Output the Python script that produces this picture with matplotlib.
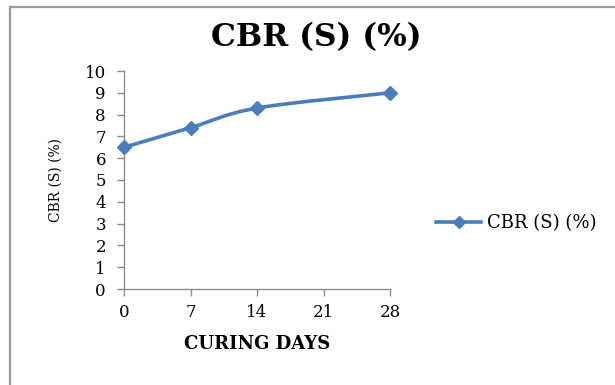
import numpy as np
import matplotlib
matplotlib.use("Agg")
import matplotlib.pyplot as plt
from matplotlib.path import Path
from matplotlib.patches import PathPatch, Rectangle
from matplotlib.lines import Line2D

# ── Data ─────────────────────────────────────────────────────────────────────
curing_days = [0, 7, 14, 28]
cbr_values = [6.5, 7.4, 8.3, 9.0]
x_ticks = [0, 7, 14, 21, 28]
y_ticks = list(range(0, 11))
title = "CBR (S) (%)"
series_name = "CBR (S) (%)"

BLUE = "#4a7ebb"
AXC = "#8c8c8c"
# the reference glyphs are wide serif letters -> DejaVu Serif
plt.rcParams["font.family"] = ["DejaVu Serif"]

fig = plt.figure(figsize=(6.15, 3.85), dpi=100)
fig.patch.set_facecolor("white")

# outer chart frame (only top & left visible in the crop)
fig.patches.append(Rectangle((10 / 615, -0.2), 1.2, 0.2 + 378 / 385,
                             transform=fig.transFigure, facecolor="none",
                             edgecolor="#9a9a9a", linewidth=1.6))

ax = fig.add_axes([124 / 615, 96 / 385, 266 / 615, 218 / 385])

# Excel-style smoothed line, built as bezier segments between the points
xs = np.array(curing_days, float)
ys = np.array(cbr_values, float)
n = len(xs)
verts = [(xs[0], ys[0])]
codes = [Path.MOVETO]
for i in range(n - 1):
    p0 = np.array([xs[max(i - 1, 0)], ys[max(i - 1, 0)]])
    p1 = np.array([xs[i], ys[i]])
    p2 = np.array([xs[i + 1], ys[i + 1]])
    p3 = np.array([xs[min(i + 2, n - 1)], ys[min(i + 2, n - 1)]])
    c1 = p1 + (p2 - p0) / 6
    c2 = p2 - (p3 - p1) / 6
    verts += [tuple(c1), tuple(c2), tuple(p2)]
    codes += [Path.CURVE4] * 3
ax.add_patch(PathPatch(Path(verts, codes), facecolor="none", edgecolor=BLUE,
                       linewidth=2.6, capstyle="round", zorder=3))
ax.plot(curing_days, cbr_values, linestyle="none", marker="D", markersize=7.5,
        color=BLUE, zorder=4, clip_on=False)

ax.set_xlim(0, 28)
ax.set_ylim(0, 10)
ax.set_xticks(x_ticks)
ax.set_yticks(y_ticks)
ax.tick_params(axis="both", direction="out", length=5, width=1, color=AXC,
               labelsize=12)
ax.tick_params(axis="y", pad=8)
ax.tick_params(axis="x", pad=6)
for s in ["top", "right"]:
    ax.spines[s].set_visible(False)
for s in ["left", "bottom"]:
    ax.spines[s].set_color(AXC)
    ax.spines[s].set_linewidth(1)

ax.set_xlabel("CURING DAYS", fontsize=13, fontweight="bold", labelpad=10)
ax.set_ylabel("CBR (S) (%)", fontsize=10, labelpad=16)

fig.text(316 / 615, 1 - 38 / 385, title, fontsize=22.5, fontweight="bold",
         ha="center", va="center")

handle = Line2D([], [], color=BLUE, linewidth=2.6, marker="D", markersize=6.5)
fig.legend([handle], [series_name], loc="center left",
           bbox_to_anchor=(420 / 615, 1 - 223 / 385), frameon=False,
           fontsize=13, handlelength=2.5, handletextpad=0.3)

fig.savefig("out.png", dpi=100, facecolor="white")
